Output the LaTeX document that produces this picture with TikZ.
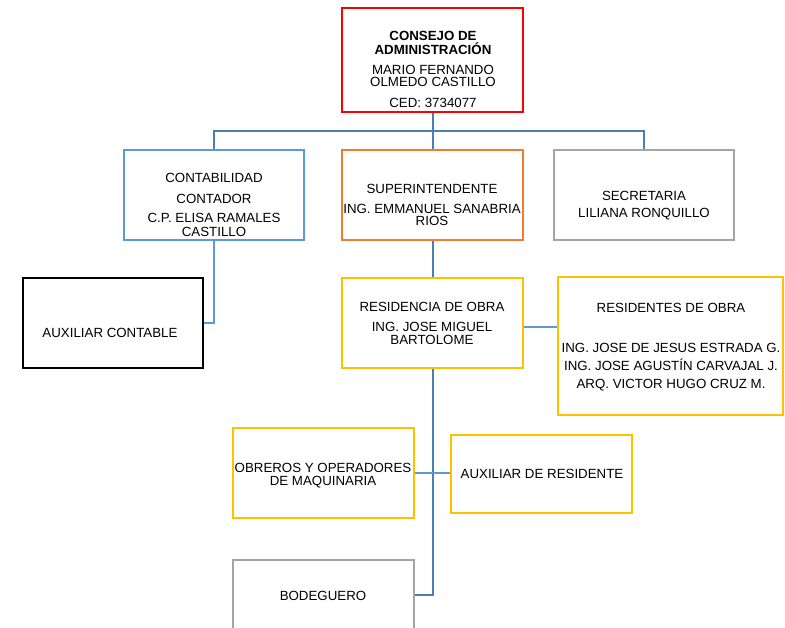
\documentclass[tikz,border=0pt]{standalone}
\usepackage{fontspec}
\setmainfont{Liberation Sans}
\definecolor{cred}{HTML}{FF0000}
\definecolor{cblue}{HTML}{5B9BD5}
\definecolor{corange}{HTML}{ED7D31}
\definecolor{cgray}{HTML}{A5A5A5}
\definecolor{cyellow}{HTML}{FFC000}
\definecolor{cline}{HTML}{4A7EB4}
\definecolor{clight}{HTML}{5B9BD5}
\begin{document}
\begin{tikzpicture}[x=1pt,y=-1pt,
  box/.style={draw, rectangle, line width=2.2pt, inner sep=0pt},
  lbl/.style={anchor=base, inner sep=0pt, font=\fontsize{13.3}{14}\selectfont},
  blbl/.style={lbl, font=\fontsize{13.3}{14}\selectfont\bfseries},
  link/.style={draw=cline, line width=2pt},
  lightlink/.style={draw=clight, line width=2pt}]
\clip (0,0) rectangle (785,627);
\fill[white] (0,0) rectangle (785,627);
% boxes
\node[box, draw=cred, minimum width=181pt, minimum height=104pt] (consejo) at (432.5,60) {};
\node[box, draw=cblue, minimum width=180pt, minimum height=90pt] (conta) at (214,195) {};
\node[box, draw=corange, minimum width=181pt, minimum height=90pt] (super) at (432.5,195) {};
\node[box, draw=cgray, minimum width=180pt, minimum height=90pt] (secre) at (644,195) {};
\node[box, draw=black, minimum width=180pt, minimum height=90pt] (auxc) at (113,323) {};
\node[box, draw=cyellow, minimum width=181pt, minimum height=90pt] (resid) at (432.5,323) {};
\node[box, draw=cyellow, minimum width=225pt, minimum height=138pt] (rests) at (670.5,346) {};
\node[box, draw=cyellow, minimum width=181pt, minimum height=90pt] (obre) at (323.5,473) {};
\node[box, draw=cyellow, minimum width=181pt, minimum height=78pt] (auxr) at (541.5,474) {};
\node[box, draw=cgray, minimum width=181pt, minimum height=70pt] (bode) at (323.5,595) {};
% connectors
\coordinate (busy) at (0,131);
\coordinate (resy) at (0,327);
\draw[link] (consejo.south) -- (super.north);
\draw[link] (conta.north) -- (conta.north |- busy) -- (secre.north |- busy) -- (secre.north);
\draw[lightlink] (conta.south) |- (auxc.east);
\draw[link] (super.south) -- (resid.north);
\draw[link] (resid.south) |- (bode.east);
\draw[lightlink] (resid.east |- resy) -- (rests.west |- resy);
\draw[lightlink] (obre.east) -- (obre.east -| auxr.west);
% texts
\node[blbl] (t1) at (433,40) {CONSEJO DE};
\node[blbl] (t2) at (433,54) {ADMINISTRACIÓN};
\node[lbl] (t3) at (433,74) {MARIO FERNANDO};
\node[lbl] (t4) at (433,86) {OLMEDO CASTILLO};
\node[lbl] (t5) at (433,107) {CED: 3734077};
\node[lbl] (c1) at (214,182) {CONTABILIDAD};
\node[lbl] (c2) at (214,203) {CONTADOR};
\node[lbl] (c3) at (214,222) {C.P. ELISA RAMALES};
\node[lbl] (c4) at (214,236) {CASTILLO};
\node[lbl] (s1) at (432,193) {SUPERINTENDENTE};
\node[lbl] (s2) at (432,213) {ING. EMMANUEL SANABRIA};
\node[lbl] (s3) at (432,225) {RIOS};
\node[lbl] (e1) at (644,200) {SECRETARIA};
\node[lbl] (e2) at (644,217) {LILIANA RONQUILLO};
\node[lbl] (a1) at (110,337) {AUXILIAR CONTABLE};
\node[lbl] (r1) at (432,311) {RESIDENCIA DE OBRA};
\node[lbl] (r2) at (432,331) {ING. JOSE MIGUEL};
\node[lbl] (r3) at (432,344) {BARTOLOME};
\node[lbl] (q1) at (671,312) {RESIDENTES DE OBRA};
\node[lbl] (q2) at (671,352) {ING. JOSE DE JESUS ESTRADA G.};
\node[lbl] (q3) at (671,370) {ING. JOSE AGUSTÍN CARVAJAL J.};
\node[lbl] (q4) at (671,388) {ARQ. VICTOR HUGO CRUZ M.};
\node[lbl] (o1) at (323,472) {OBREROS Y OPERADORES};
\node[lbl] (o2) at (323,485) {DE MAQUINARIA};
\node[lbl] (x1) at (542,478) {AUXILIAR DE RESIDENTE};
\node[lbl] (b1) at (323,600) {BODEGUERO};
\end{tikzpicture}
\end{document}
